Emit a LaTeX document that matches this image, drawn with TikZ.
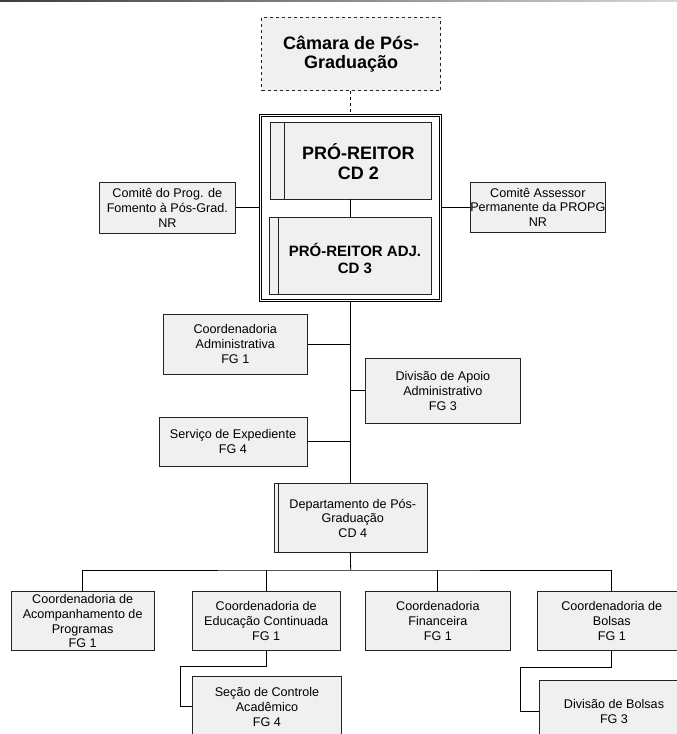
\documentclass[tikz,border=0pt]{standalone}
\usepackage{fontspec}
\setmainfont{Liberation Sans}
\usetikzlibrary{calc}
\definecolor{boxfill}{RGB}{240,240,240}
\definecolor{boxline}{RGB}{35,35,35}
\definecolor{topdark}{RGB}{60,60,60}
\definecolor{toplight}{RGB}{215,215,215}

\tikzset{
  unitbox/.style={draw=boxline, line width=0.8pt, fill=boxfill, inner sep=0pt,
    align=center, font=\fontsize{12.6}{14.8}\selectfont},
  plainlabel/.style={inner sep=0pt, align=center, font=\fontsize{12.6}{14.8}\selectfont},
  headlabel/.style={inner sep=0pt, align=center, font=\bfseries\fontsize{18}{20}\selectfont},
  sublabel/.style={inner sep=0pt, align=center, font=\bfseries\fontsize{15}{16.7}\selectfont},
  conn/.style={draw=black, line width=0.8pt},
  sideline/.style={draw=boxline, line width=0.8pt},
  frameline/.style={draw=black, line width=1pt},
}

\begin{document}
\begin{tikzpicture}[x=1pt, y=-1pt]
\useasboundingbox (0,0) rectangle (677,734);
\clip (0,0) rectangle (677,734);

% thin shaded rule along the top edge
\shade[left color=topdark, right color=toplight] (0,0) rectangle (677,1.3);

% council (advisory, dashed)
\node[unitbox, dashed, minimum width=179, minimum height=73.4,
  font=\bfseries\fontsize{18}{19.5}\selectfont] (cam) at (351.2,54)
  {Câmara de Pós-\\Graduação};

% frame holding the two top offices: two nested outlines
\node[frameline, fill=white, minimum width=182.7, minimum height=187.7, inner sep=0pt]
  (frame) at (350.35,207.85) {};
\node[frameline, minimum width=177.3, minimum height=182.3, inner sep=0pt]
  (frameinner) at (350.35,207.85) {};

% Pró-Reitor
\node[unitbox, minimum width=161, minimum height=77] (pr) at (351.2,160.5) {};
\draw[sideline] ($(pr.north west)+(14.3,0)$) -- ($(pr.south west)+(14.3,0)$);
\node[headlabel] (prt) at ($(pr.center)+(7.15,1)$) {PRÓ-REITOR\\CD 2};

% Pró-Reitor adjunto
\node[unitbox, minimum width=162.4, minimum height=76.3] (pra) at (350.5,255.85) {};
\draw[sideline] ($(pra.north west)+(9,0)$) -- ($(pra.south west)+(9,0)$);
\node[sublabel] (prat) at ($(pra.center)+(4.5,2.5)$) {PRÓ-REITOR ADJ.\\CD 3};

% committees on both sides
\node[unitbox, minimum width=136.7, minimum height=51] (comL) at (167.35,207.8)
  {Comitê do Prog. de\\Fomento à Pós-Grad.\\NR};
\node[unitbox, minimum width=135.7, minimum height=50] (comR) at (537.85,207.3)
  {Comitê Assessor\\Permanente da PROPG\\NR};

% staff units along the trunk
\node[unitbox, minimum width=144, minimum height=59.7] (ca) at (235.3,344.15)
  {Coordenadoria\\Administrativa\\FG 1};
\node[unitbox, minimum width=155.7, minimum height=65] (dap) at (442.85,390.8)
  {Divisão de Apoio\\Administrativo\\FG 3};
\node[unitbox, minimum width=148, minimum height=49] (se) at (233,441.5)
  {Serviço de Expediente\\FG 4};

% department
\node[unitbox, minimum width=153.3, minimum height=69] (dep) at (350.65,517.8) {};
\draw[sideline] ($(dep.north west)+(4.3,0)$) -- ($(dep.south west)+(4.3,0)$);
\node[plainlabel] (dept) at ($(dep.center)+(2.15,0.5)$) {Departamento de Pós-\\Graduação\\CD 4};

% coordinations
\node[unitbox, minimum width=143.3, minimum height=59] (b1) at (82.65,621.2)
  {Coordenadoria de\\Acompanhamento de\\Programas\\FG 1};
\node[unitbox, minimum width=147.7, minimum height=59] (b2) at (266.15,621.2)
  {Coordenadoria de\\Educação Continuada\\FG 1};
\node[unitbox, minimum width=145.7, minimum height=59] (b3) at (437.85,621.2)
  {Coordenadoria\\Financeira\\FG 1};
\node[unitbox, minimum width=149, minimum height=59] (b4) at (611.8,621.2)
  {Coordenadoria de\\Bolsas\\FG 1};

% sections
\node[unitbox, minimum width=149.4, minimum height=61.4] (sec) at (267,706.7)
  {Seção de Controle\\Acadêmico\\FG 4};
\node[unitbox, minimum width=149.4, minimum height=61] (dbol) at (614,711.2)
  {Divisão de Bolsas\\FG 3};

% connectors
\draw[conn, dashed] (cam.south -| frame.north) -- (frame.north);
\draw[conn] (pr.south -| frame.north) -- (pra.north -| frame.north);
\draw[conn] (comL.east) -- (comL.east -| frame.west);
\draw[conn] (comR.west) -- (comR.west -| frame.east);
\draw[conn] (frame.south) -- (dep.north -| frame.south);
\draw[conn] (ca.east) -- (ca.east -| frame.south);
\draw[conn] (dap.west) -- (dap.west -| frame.south);
\draw[conn] (se.east) -- (se.east -| frame.south);

\coordinate (bus) at (350.7,570);
\draw[conn] (dep.south -| frame.south) -- (bus);
\draw[conn] (b1.north) |- (bus) -| (b4.north);
\draw[conn] (b2.north) -- (b2.north |- bus);
\draw[conn] (b3.north) -- (b3.north |- bus);

\coordinate (secbend) at (180.3,666);
\draw[conn] (b2.south) |- (secbend) |- (sec.west);
\coordinate (dbbend) at (520.3,667.7);
\draw[conn] (b4.south) |- (dbbend) |- (dbol.west);
\end{tikzpicture}
\end{document}
